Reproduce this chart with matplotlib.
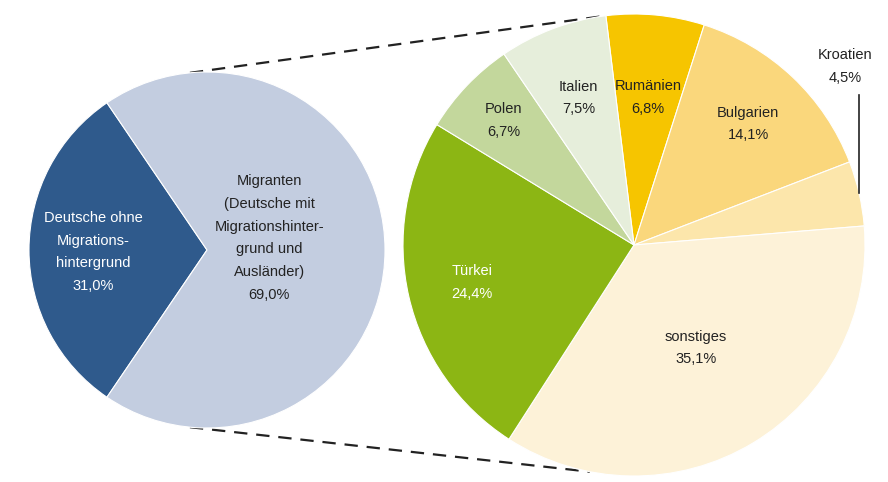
import numpy as np
import matplotlib.pyplot as plt

plt.rcParams['font.family'] = ['Liberation Sans', 'DejaVu Sans']

# Gesamt: ohne / mit Migrationshintergrund
gesamt_labels = ["Deutsche ohne\nMigrations-\nhintergrund", "Migranten\n(Deutsche mit\nMigrationshinter-\ngrund und\nAusländer)"]
gesamt_werte = [31.0, 69.0]

# Aufteilung nach Herkunftsland (im Uhrzeigersinn ab oben)
land_labels = ["Rumänien", "Bulgarien", "Kroatien", "sonstiges", "Türkei", "Polen", "Italien"]
land_werte = [6.8, 14.1, 4.5, 35.1, 24.4, 6.7, 7.5]

gesamt_farben = ["#2f5a8c", "#c3cde0"]
land_farben = ["#f6c500", "#fad77c", "#fce6ab", "#fdf2d8", "#8cb614", "#c3d79c", "#e6eedb"]
land_textfarben = ["#222222", "#222222", "#222222", "#222222", "white", "#222222", "#222222"]
land_abstand = [0.64, 0.72, None, 0.52, 0.72, 0.78, 0.68]

FS = 10.5
LS = 1.8


def fmt(v):
    return f"{v:.1f}%".replace(".", ",")


fig = plt.figure(figsize=(8.88, 4.82), dpi=100)
ax = fig.add_axes([0, 0, 1, 1])

# linker Kreis
c1, r1 = (207, 232), 178
w1, _ = ax.pie(gesamt_werte, colors=gesamt_farben, startangle=124.2, counterclock=True,
               center=c1, radius=r1, frame=True,
               wedgeprops=dict(edgecolor="white", linewidth=0.8))

for w, lab, v, frac, col, dy in zip(w1, gesamt_labels, gesamt_werte, [0.64, 0.35],
                                    ["white", "#222222"], [-2, 12]):
    mid = np.deg2rad((w.theta1 + w.theta2) / 2)
    x = c1[0] + frac * r1 * np.cos(mid)
    y = c1[1] + frac * r1 * np.sin(mid) + dy
    ax.text(x, y, lab + "\n" + fmt(v), ha="center", va="center", fontsize=FS,
            color=col, linespacing=LS)

# rechter Kreis
c2, r2 = (634, 237), 231
w2, _ = ax.pie(land_werte, colors=land_farben, startangle=97, counterclock=False,
               center=c2, radius=r2, frame=True, normalize=True,
               wedgeprops=dict(edgecolor="white", linewidth=0.8))

for w, lab, v, frac, col in zip(w2, land_labels, land_werte, land_abstand, land_textfarben):
    mid = np.deg2rad((w.theta1 + w.theta2) / 2)
    if frac is None:
        # Kroatien: Beschriftung außerhalb mit senkrechter Linie
        ex = c2[0] + r2 * np.cos(mid)
        ey = c2[1] + r2 * np.sin(mid)
        ax.plot([ex, ex], [ey, ey + 98], color="#222222", lw=1.2)
        ax.text(ex - 14, ey + 127, lab + "\n" + fmt(v), ha="center", va="center",
                fontsize=FS, color=col, linespacing=LS)
        continue
    x = c2[0] + frac * r2 * np.cos(mid)
    y = c2[1] + frac * r2 * np.sin(mid)
    ax.text(x, y, lab + "\n" + fmt(v), ha="center", va="center", fontsize=FS,
            color=col, linespacing=LS)

# gestrichelte Verbindungslinien
for a1, a2 in [(95.5, 98.5), (264.5, 259)]:
    p1 = (c1[0] + r1 * np.cos(np.deg2rad(a1)), c1[1] + r1 * np.sin(np.deg2rad(a1)))
    p2 = (c2[0] + r2 * np.cos(np.deg2rad(a2)), c2[1] + r2 * np.sin(np.deg2rad(a2)))
    ax.plot([p1[0], p2[0]], [p1[1], p2[1]], color="#222222", lw=1.6,
            dashes=(6, 4), zorder=0)

ax.set_xlim(0, 888)
ax.set_ylim(0, 482)
ax.set_aspect("equal")
ax.axis("off")

fig.savefig("out.png", dpi=100)
